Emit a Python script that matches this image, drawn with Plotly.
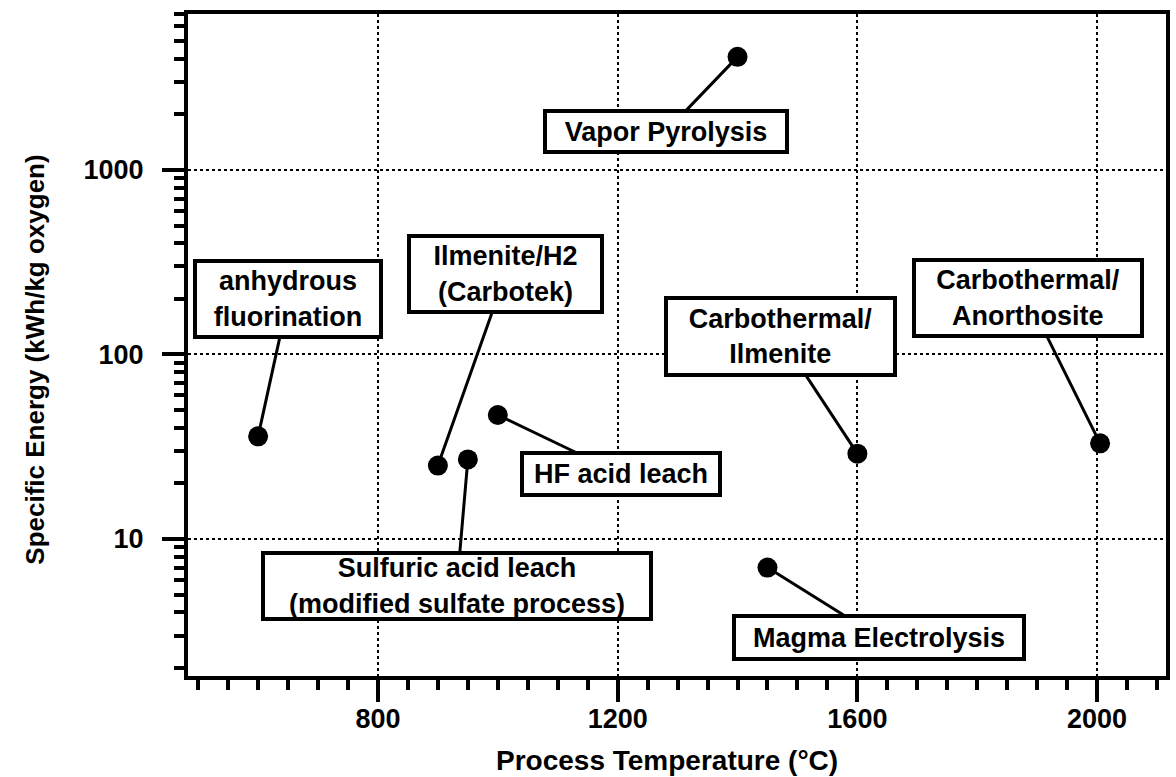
import math
import plotly.graph_objects as go

# ---- data ----
processes = [
    "Vapor Pyrolysis",
    "anhydrous fluorination",
    "Ilmenite/H2 (Carbotek)",
    "Carbothermal/Ilmenite",
    "Carbothermal/Anorthosite",
    "HF acid leach",
    "Sulfuric acid leach (modified sulfate process)",
    "Magma Electrolysis",
]
temperature_c = [1400, 600, 900, 1600, 2005, 1000, 950, 1450]
specific_energy = [4100, 36, 25, 29, 33, 47, 27, 7.0]
label_text = [
    "Vapor Pyrolysis",
    "anhydrous<br>fluorination",
    "Ilmenite/H2<br>(Carbotek)",
    "Carbothermal/<br>Ilmenite",
    "Carbothermal/<br>Anorthosite",
    "HF acid leach",
    "Sulfuric acid leach<br>(modified sulfate process)",
    "Magma Electrolysis",
]
x_tick_vals = [800, 1200, 1600, 2000]
x_tick_text = ["800", "1200", "1600", "2000"]
y_tick_vals = [10, 100, 1000]
y_tick_text = ["10", "100", "1000"]

# ---- label box layout (pixel offsets from point, box sizes) ----
label_ax = [-72, 30, 68, -77, -72, 123, -11, 112]
label_ay = [75, -137, -192, -117, -145, 59, 127, 70]
box_w = [246, 190, 197, 233, 232, 202, 392, 294]
box_h = [45, 80, 80, 81, 80, 46, 70, 47]

FONT = "Liberation Sans, Arial, Helvetica, sans-serif"
BW = 4

fig = go.Figure()
fig.add_trace(go.Scatter(
    x=temperature_c, y=specific_energy, mode="markers",
    marker=dict(size=20, color="black"),
    text=processes, hoverinfo="text", showlegend=False,
))

for i in range(len(processes)):
    fig.add_annotation(
        x=temperature_c[i], y=math.log10(specific_energy[i]),
        xref="x", yref="y",
        text=label_text[i],
        showarrow=True, arrowhead=0, arrowwidth=3, arrowcolor="black",
        ax=label_ax[i], ay=label_ay[i],
        bordercolor="black", borderwidth=BW, borderpad=0, bgcolor="white",
        width=box_w[i] - 2 * BW, height=box_h[i] - 2 * BW,
        align="center", valign="middle",
        font=dict(family=FONT, size=27, color="black", weight="bold"),
    )

# axis titles
fig.add_annotation(
    text="Process Temperature (°C)", xref="paper", yref="paper",
    x=0.4898, y=-0.128, xanchor="center", yanchor="middle", showarrow=False,
    font=dict(family=FONT, size=28, color="black", weight="bold"),
)
fig.add_annotation(
    text="Specific Energy (kWh/kg oxygen)", xref="paper", yref="paper",
    x=-0.1568, y=0.4773, xanchor="center", yanchor="middle", showarrow=False,
    textangle=-90,
    font=dict(family=FONT, size=26, color="black", weight="bold"),
)

fig.update_xaxes(
    range=[483, 2115],
    tickvals=x_tick_vals, ticktext=x_tick_text,
    ticks="outside", ticklen=22, tickwidth=4, tickcolor="black",
    ticklabelstandoff=-6,
    minor=dict(dtick=50, tick0=0, ticks="outside", ticklen=10, tickwidth=4,
               tickcolor="black", showgrid=False),
    showgrid=True, gridcolor="black", gridwidth=2, griddash="dot",
    showline=True, linewidth=4, linecolor="black", mirror=True,
    zeroline=False,
    tickfont=dict(family=FONT, size=27, color="black", weight="bold"),
)
fig.update_yaxes(
    type="log", range=[math.log10(1.81), math.log10(7000)],
    tickvals=y_tick_vals, ticktext=y_tick_text,
    ticks="outside", ticklen=22, tickwidth=4, tickcolor="black",
    ticklabelstandoff=13,
    minor=dict(dtick="D1", ticks="outside", ticklen=10, tickwidth=4,
               tickcolor="black", showgrid=False),
    showgrid=True, gridcolor="black", gridwidth=2, griddash="dot",
    showline=True, linewidth=4, linecolor="black", mirror=True,
    zeroline=False,
    tickfont=dict(family=FONT, size=27, color="black", weight="bold"),
)

fig.update_layout(
    width=1176, height=777,
    margin=dict(l=188, r=6, t=14, b=101),
    paper_bgcolor="white", plot_bgcolor="white",
    font=dict(family=FONT, color="black"),
    showlegend=False,
)

# remove the default page margin so the figure fills the window exactly
fig.write_html(
    "out.html",
    config={"displayModeBar": False},
    post_script="document.body.style.margin='0px';document.body.style.overflow='hidden';",
)
